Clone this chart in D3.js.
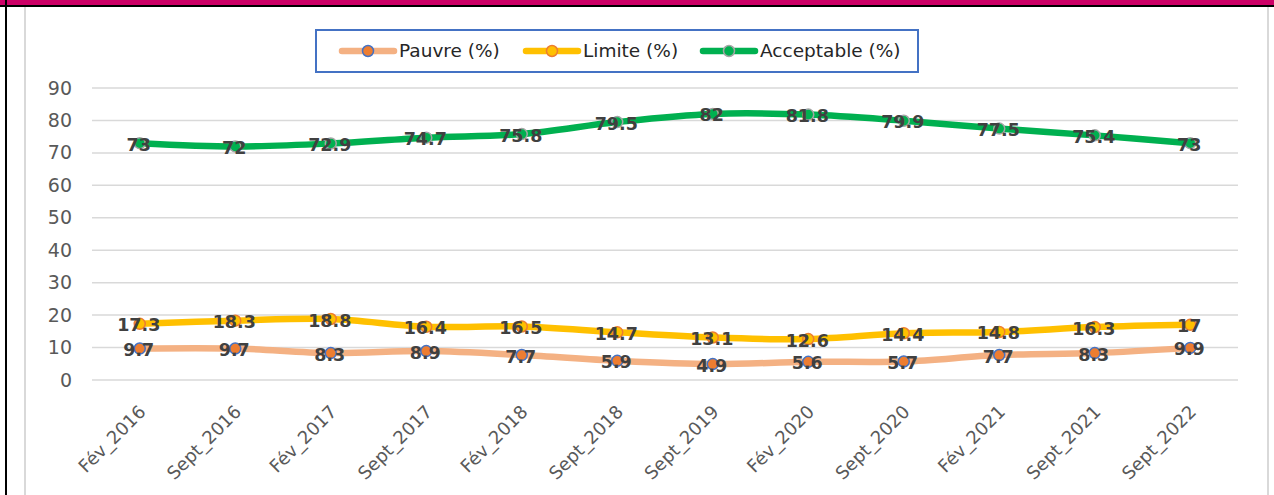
<html>
  <head><meta charset="utf-8"></head>
  <body style="margin:0;background:#fff">
    <script src="https://d3js.org/d3.v7.min.js"></script>
    <div id="main"></div>
    <script>
      // chart data
      const categories = ["Fév_2016", "Sept_2016", "Fév_2017", "Sept_2017", "Fév_2018", "Sept_2018",
        "Sept_2019", "Fév_2020", "Sept_2020", "Fév_2021", "Sept_2021", "Sept_2022"];
      const pauvre = [9.7, 9.7, 8.3, 8.9, 7.7, 5.9, 4.9, 5.6, 5.7, 7.7, 8.3, 9.9];
      const limite = [17.3, 18.3, 18.8, 16.4, 16.5, 14.7, 13.1, 12.6, 14.4, 14.8, 16.3, 17];
      const acceptable = [73, 72, 72.9, 74.7, 75.8, 79.5, 82, 81.8, 79.9, 77.5, 75.4, 73];
      const yTicks = [0, 10, 20, 30, 40, 50, 60, 70, 80, 90];
      const seriesNames = ["Pauvre (%)", "Limite (%)", "Acceptable (%)"];

      const W = 1274, H = 495;
      const font = "'DejaVu Sans', sans-serif";

      const svg = d3.select("#main").append("svg")
        .attr("width", W).attr("height", H)
        .style("display", "block");

      // frame
      svg.append("rect").attr("x", 0).attr("y", 0).attr("width", W).attr("height", 5).attr("fill", "#cc0066");
      svg.append("rect").attr("x", 0).attr("y", 5).attr("width", W).attr("height", 2).attr("fill", "#000");
      svg.append("rect").attr("x", 5).attr("y", 0).attr("width", 2).attr("height", H).attr("fill", "#000");
      svg.append("rect").attr("x", 24).attr("y", 7).attr("width", 2).attr("height", H).attr("fill", "#d9d9d9");
      svg.append("rect").attr("x", 1267).attr("y", 7).attr("width", 2).attr("height", H).attr("fill", "#d9d9d9");

      const x = d3.scaleBand().domain(categories).range([92, 1238]);
      const y = d3.scaleLinear().domain([0, 90]).range([380, 88]);

      // gridlines
      svg.append("g").selectAll("line").data(yTicks).join("line")
        .attr("x1", 92).attr("x2", 1238)
        .attr("y1", d => y(d)).attr("y2", d => y(d))
        .attr("stroke", "#d9d9d9").attr("stroke-width", 1.5);

      // y axis
      const yAxis = svg.append("g").attr("transform", "translate(72,0)")
        .call(d3.axisLeft(y).tickValues(yTicks).tickSize(0).tickPadding(0));
      yAxis.select(".domain").remove();
      yAxis.selectAll("text").attr("font-family", font).attr("font-size", 19).attr("fill", "#595959");

      // x axis
      const xAxis = svg.append("g").attr("transform", "translate(0,380)")
        .call(d3.axisBottom(x).tickSize(0));
      xAxis.select(".domain").remove();
      xAxis.selectAll("text")
        .attr("font-family", font).attr("font-size", 18).attr("fill", "#595959")
        .attr("text-anchor", "end")
        .attr("x", 0).attr("y", 0).attr("dy", null)
        .attr("transform", "translate(7,33) rotate(-45)");

      const series = [
        { name: seriesNames[0], values: pauvre, line: "#f4b183", fill: "#ed7d31", stroke: "#4472c4" },
        { name: seriesNames[1], values: limite, line: "#ffc000", fill: "#ffc000", stroke: "#ed7d31" },
        { name: seriesNames[2], values: acceptable, line: "#00b050", fill: "#00b050", stroke: "#a5a5a5" }
      ];

      const cx = c => x(c) + x.bandwidth() / 2;
      const line = d3.line()
        .x((d, i) => cx(categories[i]))
        .y(d => y(d))
        .curve(d3.curveCatmullRom.alpha(0.5));

      series.forEach(s => {
        svg.append("path").datum(s.values)
          .attr("d", line)
          .attr("fill", "none")
          .attr("stroke", s.line)
          .attr("stroke-width", 6.5)
          .attr("stroke-linecap", "round");
        svg.append("g").selectAll("circle").data(s.values).join("circle")
          .attr("cx", (d, i) => cx(categories[i]))
          .attr("cy", d => y(d))
          .attr("r", 5.5)
          .attr("fill", s.fill)
          .attr("stroke", s.stroke)
          .attr("stroke-width", 1.5);
      });

      // data labels
      series.forEach(s => {
        svg.append("g").selectAll("text").data(s.values).join("text")
          .attr("x", (d, i) => cx(categories[i]) - 1)
          .attr("y", d => y(d) + 7.5)
          .attr("text-anchor", "middle")
          .attr("font-family", font)
          .attr("font-size", 17.5)
          .attr("font-weight", "bold")
          .attr("fill", "#404040")
          .text(d => d);
      });

      // legend
      const legend = svg.append("g");
      legend.append("rect")
        .attr("x", 316).attr("y", 30).attr("width", 602).attr("height", 42)
        .attr("fill", "#fff").attr("stroke", "#4472c4").attr("stroke-width", 2);
      const legendX = [342, 526, 703];
      series.forEach((s, i) => {
        const g = legend.append("g").attr("transform", `translate(${legendX[i]},51)`);
        g.append("line").attr("x1", 0).attr("x2", 52).attr("y1", 0).attr("y2", 0)
          .attr("stroke", s.line).attr("stroke-width", 6.5).attr("stroke-linecap", "round");
        g.append("circle").attr("cx", 26).attr("cy", 0).attr("r", 5.5)
          .attr("fill", s.fill).attr("stroke", s.stroke).attr("stroke-width", 1.5);
        g.append("text").attr("x", 57).attr("y", 0).attr("dy", "0.35em")
          .attr("font-family", font).attr("font-size", 18.5).attr("fill", "#262626")
          .text(s.name);
      });
    </script>
  </body>
</html>
